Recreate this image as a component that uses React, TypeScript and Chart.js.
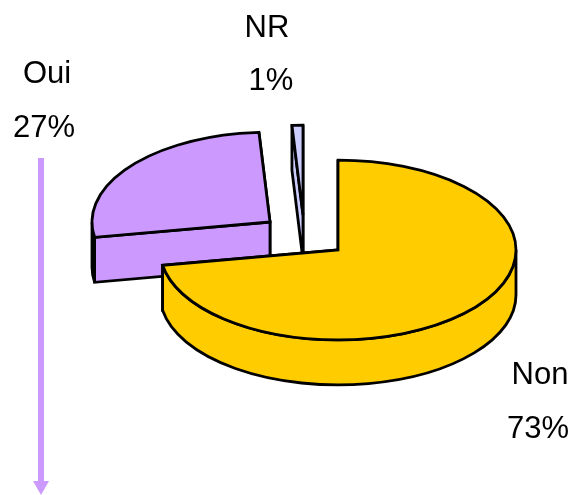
import React, { useEffect, useRef } from "react";
import { Chart, registerables } from "chart.js";

Chart.register(...registerables);

const categories = ["Non", "Oui", "NR"];
const percentValues = [73, 27, 1];
const sliceColors = ["#FFCC00", "#CC99FF", "#CCCCFF"];
const ARROW_COLOR = "#CC99FF";

const SQUASH = 0.505;
const DEPTH = 45;
const EDGE_WIDTH = 2.8;
const sliceShifts = [[0, 0], [-68, -28], [-35, -35]];
const drawOrder = [2, 1, 0];
const labelAnchors = [
  { name: [540, 384], pct: [538, 438] },
  { name: [47, 83], pct: [44, 137] },
  { name: [267, 37], pct: [271, 90] },
];

const pie3d = {
  id: "pie3d",
  beforeDatasetDraw(chart: any) {
    const ctx = chart.ctx;
    const arcs = chart.getDatasetMeta(0).data;
    ctx.save();
    ctx.strokeStyle = "#000";
    ctx.lineWidth = EDGE_WIDTH;
    ctx.lineJoin = "miter";
    ctx.miterLimit = 2.5;
    for (const i of drawOrder) {
      const { x, y, startAngle: s, endAngle: e, outerRadius: R } = arcs[i];
      const cx = x + sliceShifts[i][0];
      const cy = y + sliceShifts[i][1];
      const ry = R * SQUASH;
      ctx.fillStyle = arcs[i].options.backgroundColor;
      const rim = (a: number) => [cx + R * Math.cos(a), cy + ry * Math.sin(a)];
      for (const a of [e, s]) {
        const [px, py] = rim(a);
        ctx.beginPath();
        ctx.moveTo(cx, cy);
        ctx.lineTo(px, py);
        ctx.lineTo(px, py + DEPTH);
        ctx.lineTo(cx, cy + DEPTH);
        ctx.closePath();
        ctx.fill();
        ctx.stroke();
      }
      const a1 = Math.max(s, 0);
      const a2 = Math.min(e, Math.PI);
      if (a2 > a1) {
        ctx.beginPath();
        ctx.ellipse(cx, cy, R, ry, 0, a1, a2);
        ctx.ellipse(cx, cy + DEPTH, R, ry, 0, a2, a1, true);
        ctx.closePath();
        ctx.fill();
        ctx.stroke();
      }
      ctx.beginPath();
      ctx.moveTo(cx, cy);
      ctx.ellipse(cx, cy, R, ry, 0, s, e);
      ctx.closePath();
      ctx.fill();
      ctx.stroke();
    }
    ctx.restore();
    return false;
  },
  afterDraw(chart: any) {
    const ctx = chart.ctx;
    ctx.save();
    ctx.fillStyle = "#000";
    ctx.font = '31px "Liberation Sans", Arial, sans-serif';
    ctx.textAlign = "center";
    ctx.textBaseline = "alphabetic";
    categories.forEach((c, i) => {
      const a = labelAnchors[i];
      ctx.fillText(c, a.name[0], a.name[1]);
      ctx.fillText(percentValues[i] + "%", a.pct[0], a.pct[1]);
    });
    ctx.strokeStyle = ARROW_COLOR;
    ctx.fillStyle = ARROW_COLOR;
    ctx.lineWidth = 6;
    ctx.beginPath();
    ctx.moveTo(41, 158);
    ctx.lineTo(41, 483);
    ctx.stroke();
    ctx.beginPath();
    ctx.moveTo(33, 481);
    ctx.lineTo(49, 481);
    ctx.lineTo(41, 495);
    ctx.closePath();
    ctx.fill();
    ctx.restore();
  },
};

export default function App() {
  const ref = useRef<HTMLCanvasElement>(null);
  useEffect(() => {
    const chart = new Chart(ref.current!, {
      type: "pie",
      data: {
        labels: categories,
        datasets: [{ data: percentValues, backgroundColor: sliceColors, borderWidth: 0 }],
      },
      options: {
        responsive: false,
        animation: false,
        layout: { padding: { left: 160, right: 57, top: 72, bottom: 67 } },
        plugins: { legend: { display: false }, tooltip: { enabled: false } },
      },
      plugins: [pie3d],
    } as any);
    return () => chart.destroy();
  }, []);
  return (
    <div style={{ position: "absolute", left: 0, top: 0, width: 573, height: 495, background: "#fff" }}>
      <canvas ref={ref} width={573} height={495} style={{ display: "block" }} />
    </div>
  );
}
